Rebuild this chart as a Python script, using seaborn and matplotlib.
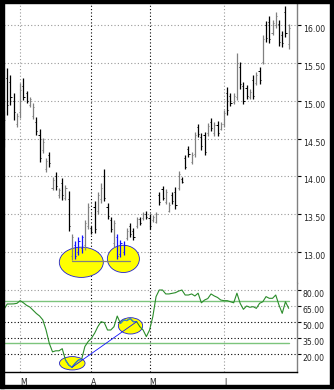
import matplotlib
matplotlib.use("Agg")
import matplotlib.pyplot as plt
from matplotlib.patches import Ellipse, Rectangle
import seaborn as sns
import numpy as np
import pandas as pd

# ---------------- data ----------------
high = [14.87, 15.44, 15.34, 15.10, 14.84, 15.24, 15.30, 15.13, 15.05, 14.97,
        14.79, 14.63, 14.51, 14.24, 14.32, 13.99, 14.06, 13.85, 13.98, 13.89,
        13.81, 13.24, 13.14, 13.20, 13.23, 13.42, 13.65, 13.34, 13.67, 13.79,
        13.91, 14.10, 13.65, 13.46, 13.42, 13.24, 13.16, 13.14, 13.32, 13.39,
        13.32, 13.47, 13.47, 13.53, 13.54, 13.51, 13.49, 13.53, 13.79, 13.88,
        13.84, 13.66, 13.79, 13.86, 14.07, 13.99, 14.28, 14.40, 14.32, 14.59,
        14.70, 14.57, 14.59, 14.71, 14.77, 14.72, 14.73, 14.72, 14.88, 15.18,
        15.10, 15.10, 15.63, 15.51, 15.25, 15.21, 15.16, 15.34, 15.38, 15.45,
        15.87, 16.06, 16.12, 16.07, 16.17, 16.07, 15.92, 16.25, 16.02]
low = [14.39, 14.81, 14.95, 14.75, 14.65, 14.77, 15.01, 14.97, 14.92, 14.76,
       14.55, 14.19, 14.31, 14.06, 14.13, 13.82, 13.82, 13.72, 13.69, 13.69,
       13.28, 12.90, 12.91, 12.96, 12.99, 13.03, 13.31, 13.24, 13.25, 13.50,
       13.65, 13.67, 13.44, 13.27, 13.07, 12.91, 12.94, 12.96, 13.16, 13.20,
       13.16, 13.32, 13.36, 13.42, 13.44, 13.31, 13.40, 13.38, 13.62, 13.69,
       13.63, 13.53, 13.64, 13.57, 13.82, 13.91, 14.10, 14.26, 14.16, 14.26,
       14.52, 14.35, 14.28, 14.54, 14.60, 14.54, 14.53, 14.61, 14.66, 14.82,
       14.93, 14.96, 15.01, 15.16, 14.96, 15.02, 15.03, 15.02, 15.21, 15.23,
       15.49, 15.78, 15.77, 15.87, 15.96, 15.73, 15.71, 15.85, 15.69]
open_ = [14.50, 15.30, 15.25, 15.00, 14.70, 14.85, 15.20, 15.10, 14.95, 14.80,
         14.72, 14.55, 14.35, 14.10, 14.28, 13.85, 14.00, 13.75, 13.92, 13.72,
         13.70, 12.95, 13.10, 13.00, 13.05, 13.10, 13.35, 13.32, 13.60, 13.55,
         13.70, 14.00, 13.60, 13.42, 13.12, 13.20, 12.98, 13.00, 13.18, 13.35,
         13.28, 13.35, 13.44, 13.45, 13.50, 13.45, 13.42, 13.40, 13.75, 13.84,
         13.66, 13.55, 13.75, 13.80, 13.85, 13.97, 14.24, 14.36, 14.19, 14.30,
         14.66, 14.52, 14.55, 14.57, 14.72, 14.57, 14.68, 14.63, 14.69, 15.10,
         15.06, 14.99, 15.05, 15.45, 15.20, 15.17, 15.05, 15.28, 15.24, 15.40,
         15.52, 16.00, 16.05, 15.90, 16.00, 16.02, 15.87, 16.18, 15.75]
close = [14.75, 14.95, 15.05, 14.85, 14.80, 15.15, 15.05, 15.00, 15.02, 14.92,
         14.60, 14.25, 14.45, 14.20, 14.18, 13.95, 13.88, 13.82, 13.75, 13.85,
         13.35, 13.20, 12.95, 13.15, 13.20, 13.38, 13.60, 13.26, 13.30, 13.75,
         13.85, 13.72, 13.48, 13.30, 13.38, 12.95, 13.12, 13.10, 13.28, 13.24,
         13.20, 13.44, 13.39, 13.50, 13.46, 13.35, 13.46, 13.50, 13.66, 13.72,
         13.80, 13.62, 13.67, 13.62, 14.03, 13.93, 14.13, 14.30, 14.28, 14.55,
         14.56, 14.40, 14.33, 14.67, 14.64, 14.68, 14.57, 14.70, 14.84, 14.88,
         14.97, 15.06, 15.50, 15.22, 15.00, 15.06, 15.12, 15.07, 15.34, 15.28,
         15.82, 15.83, 15.82, 16.03, 16.12, 15.78, 15.76, 15.90, 15.97]
bar_kind = list("gkkkggkkgg" "kkggkgkgkg" "kgbbbggkkg" "gkkkgbbbgk" "kgkgkkggkk"
                "ggkkgkkkgg" "kkkgkgkggk" "kggkkkgkgk" "gkkggkkkg")

rsi = [61.9, 66.9, 66.9, 67.0, 67.5, 70.0, 68.0, 65.6, 64.0, 61.0,
       58.0, 55.6, 52.0, 42.5, 30.0, 22.0, 23.0, 23.0, 25.0, 14.4,
       9.7, 7.5, 11.3, 14.4, 15.0, 27.0, 31.6, 34.7, 39.4, 45.6,
       50.3, 49.4, 42.5, 42.5, 45.6, 55.6, 48.7, 51.9, 51.3, 53.4,
       50.3, 50.3, 45.6, 42.5, 36.3, 42.5, 55.0, 73.8, 80.0, 80.0,
       76.3, 76.3, 76.9, 77.5, 79.0, 80.0, 75.3, 75.3, 76.3, 74.4,
       77.0, 68.0, 70.6, 72.0, 76.3, 74.4, 73.0, 70.6, 70.0, 70.0,
       69.0, 68.0, 77.0, 67.5, 61.9, 65.0, 63.8, 64.4, 62.8, 67.5,
       69.0, 73.8, 72.2, 72.2, 75.3, 65.9, 58.1, 69.0, 62.8]

month_labels = ["M", "A", "M", "J"]
month_pos = [5, 27, 45, 68]
month_grid_color = ["#999999", "black", "black", "#999999"]

price_ticks = [13.0, 13.5, 14.0, 14.5, 15.0, 15.5, 16.0]
rsi_ticks = [20, 35, 50, 65, 80]
rsi_tick_color = ["black", "black", "black", "#999999", "#999999"]
rsi_levels = [30, 70]

# annotations (data units)
top_ell_x = [23.9, 36.9]
top_ell_y = [12.865, 12.91]
top_ell_w = [13.6, 9.9]
top_ell_h = [0.40, 0.36]
support_x = [21, 39]
support_y = [12.88, 12.88]
low_ell_x = [21.1, 39.1]
low_ell_y = [11.3, 46.4]
low_ell_w = [7.9, 7.5]
low_ell_h = [12.5, 15.3]
trend_x = [21, 41]
trend_y = [7.5, 50.3]
hl_ranges = [(19, 24), (36, 41)]

# ---------------- figure ----------------
sns.set_style("white")
plt.rcParams["font.family"] = ["DejaVu Sans"]

W, H = 334, 390
fig = plt.figure(figsize=(W / 100, H / 100), dpi=100)
fig.patch.set_facecolor("white")


def px_axes(x0, y0, x1, y1):
    return fig.add_axes([x0 / W, 1 - y1 / H, (x1 - x0) / W, (y1 - y0) / H])


ax1 = px_axes(3.5, 3, 297, 283)
ax2 = px_axes(3.5, 283, 297, 372)

XL = (-0.155, 90.57)
n = len(high)
idx = np.arange(n)

df = pd.DataFrame({"i": idx, "high": high, "low": low, "open": open_,
                   "close": close, "kind": bar_kind, "rsi": rsi})
cmap = {"g": "#808080", "k": "black", "b": "#1010ff"}

# --- top panel ---
ax1.set_xlim(*XL)
ax1.set_ylim(12.591, 16.295)
for p in price_ticks:
    ax1.axhline(p, color="#999999", lw=0.8, ls=(0, (1, 2)), zorder=0)
for xp, c in zip(month_pos, month_grid_color):
    ax1.axvline(xp, color=c, lw=0.8, ls=(0, (1, 2)), zorder=0)

for cx, cy, w, h in zip(top_ell_x, top_ell_y, top_ell_w, top_ell_h):
    ax1.add_patch(Ellipse((cx, cy), w, h, fc="#ffff00", ec="#2020d0", lw=0.6, zorder=1))

for k, sub in df.groupby("kind"):
    col = cmap[k]
    ax1.vlines(sub["i"], sub["low"], sub["high"], color=col, lw=0.9, zorder=2)
    ax1.hlines(sub["open"], sub["i"] - 0.35, sub["i"], color=col, lw=0.7, zorder=2)
    ax1.hlines(sub["close"], sub["i"], sub["i"] + 0.35, color=col, lw=0.7, zorder=2)

ax1.plot(support_x, support_y, color="#808080", lw=0.9, zorder=3)

# --- bottom panel ---
ax2.set_xlim(*XL)
ax2.set_ylim(3.13, 86.56)
for t, c in zip(rsi_ticks, rsi_tick_color):
    ax2.axhline(t, color=c, lw=0.8, ls=(0, (1, 2)), zorder=0)
for xp, c in zip(month_pos, month_grid_color):
    ax2.axvline(xp, color=c, lw=0.8, ls=(0, (1, 2)), zorder=0)
for lv in rsi_levels:
    ax2.plot([XL[0], n - 1], [lv, lv], color="#7cc47c", lw=1.0, zorder=1)

for cx, cy, w, h in zip(low_ell_x, low_ell_y, low_ell_w, low_ell_h):
    ax2.add_patch(Ellipse((cx, cy), w, h, fc="#ffff00", ec="#2020d0", lw=0.6, zorder=2))

sns.lineplot(data=df, x="i", y="rsi", ax=ax2, color="#2a8c2a", lw=0.8, zorder=3)
for a, b in hl_ranges:
    seg = df[(df["i"] >= a) & (df["i"] <= b)]
    ax2.plot(seg["i"], seg["rsi"], color="#3a7ae0", lw=0.8, zorder=4)
ax2.plot(trend_x, trend_y, color="#1010ff", lw=0.6, zorder=4)
ax2.set_xlabel("")
ax2.set_ylabel("")

# --- axes styling ---
for ax in (ax1, ax2):
    for s in ("left", "top", "bottom"):
        ax.spines[s].set_visible(False)
    ax.spines["right"].set_color("#808080")
    ax.spines["right"].set_linewidth(1.0)
    ax.yaxis.tick_right()
    ax.tick_params(axis="y", direction="out", length=2.6, width=0.8, color="black",
                   labelsize=5.6, pad=1.5, labelcolor="#222222")

ax1.set_yticks(price_ticks)
ax1.set_yticklabels([f"{v:.2f}" for v in price_ticks])
ax2.set_yticks(rsi_ticks)
ax2.set_yticklabels([f"{v:.2f}" for v in rsi_ticks])
for ax in (ax1, ax2):
    for lbl in ax.get_yticklabels():
        lbl.set_verticalalignment("top")

ax1.set_xticks([])
ax2.spines["bottom"].set_visible(True)
ax2.spines["bottom"].set_color("black")
ax2.spines["bottom"].set_linewidth(1.0)
ax2.set_xticks(month_pos)
ax2.set_xticklabels(month_labels)
ax2.tick_params(axis="x", direction="out", length=3, width=0.8, labelsize=5.6,
                pad=1.0, labelcolor="#222222")
for lbl in ax2.get_xticklabels():
    lbl.set_horizontalalignment("left")
for tk, c in zip(ax2.xaxis.get_major_ticks(), month_grid_color):
    tk.tick1line.set_color(c)

# --- outer thick frame ---
def px_rect(x0, y0, x1, y1):
    fig.add_artist(Rectangle((x0 / W, 1 - y1 / H), (x1 - x0) / W, (y1 - y0) / H,
                             transform=fig.transFigure, color="black", zorder=10))


px_rect(0, 0, 3.5, 388)
px_rect(0, 0, 333, 3)
px_rect(330, 0, 333, 388)
px_rect(0, 384.5, 333, 388)

fig.savefig("out.png", dpi=100)
